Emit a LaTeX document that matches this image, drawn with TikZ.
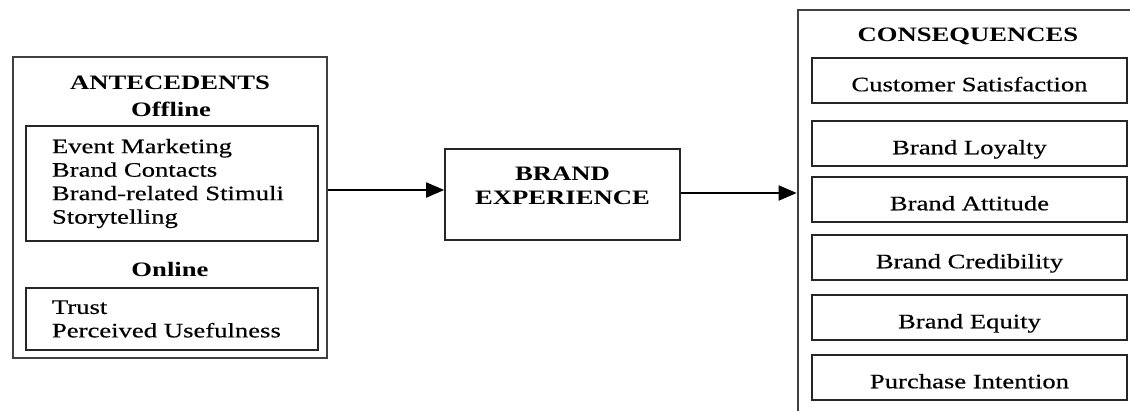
\documentclass[tikz,border=0pt]{standalone}
\usepackage{fontspec}
\setmainfont{Liberation Serif}[FakeStretch=1.3, UprightFeatures={FakeBold=0.4}]
\usetikzlibrary{arrows.meta}

\begin{document}
\begin{tikzpicture}[x=1pt, y=-1pt,
    txt/.style={font=\fontsize{20.5}{23.5}\selectfont, inner sep=0pt},
    head/.style={txt, font=\fontsize{20.5}{24.5}\selectfont\bfseries},
    outerbox/.style={draw=black!75, line width=2.6pt, minimum width=#1},
    listbox/.style={txt, draw=black!85, line width=1.6pt, align=left,
      text width=240pt, inner xsep=26pt, minimum height=#1},
    itembox/.style={txt, draw=black!85, line width=1.6pt, minimum width=315pt,
      text height=33.5pt, text depth=12pt},
    flow/.style={line width=1.8pt, -{Triangle[length=18pt, width=15pt]}}]
      \useasboundingbox (0, 0) rectangle (1130, 410);
      \clip (0, 0) rectangle (1130, 410);
      % antecedents
      \node[outerbox=314pt, minimum height=301pt] (ante) at (170, 207.5) {};
        \node[head] (h1) at (170, 83) {ANTECEDENTS};
        \node[head] (h11) at (171, 109) {Offline};
        \node[listbox=115pt] (off) at (172, 183.5) {Event Marketing\\Brand Contacts\\Brand-related Stimuli\\Storytelling};
        \node[head] (h12) at (170, 269) {Online};
        \node[listbox=62pt] (on) at (172, 319) {Trust\\Perceived Usefulness};
      % brand experience
      \node[draw=black!85, line width=1.6pt, minimum width=235pt, minimum height=91pt] (brand) at (562.5, 194.5) {};
        \node[head, align=center] (h2) at (562.5, 186) {BRAND\\EXPERIENCE};
      % consequences
      \node[outerbox=342pt, minimum height=415pt] (cons) at (969, 217.5) {};
        \node[head] (h3) at (968, 36) {CONSEQUENCES};
        \node[itembox] (c1) at (969.5, 80.5) {Customer Satisfaction};
        \node[itembox] (c2) at (969.5, 143.5) {Brand Loyalty};
        \node[itembox] (c3) at (969.5, 199.5) {Brand Attitude};
        \node[itembox] (c4) at (969.5, 257.5) {Brand Credibility};
        \node[itembox] (c5) at (969.5, 317.5) {Brand Equity};
        \node[itembox] (c6) at (969.5, 377.5) {Purchase Intention};
      \draw[flow] (ante.east |- 0, 190) -- (brand.west |- 0, 190);
      \draw[flow] (brand.east |- 0, 193) -- (cons.west |- 0, 193);
    \end{tikzpicture}
\end{document}
